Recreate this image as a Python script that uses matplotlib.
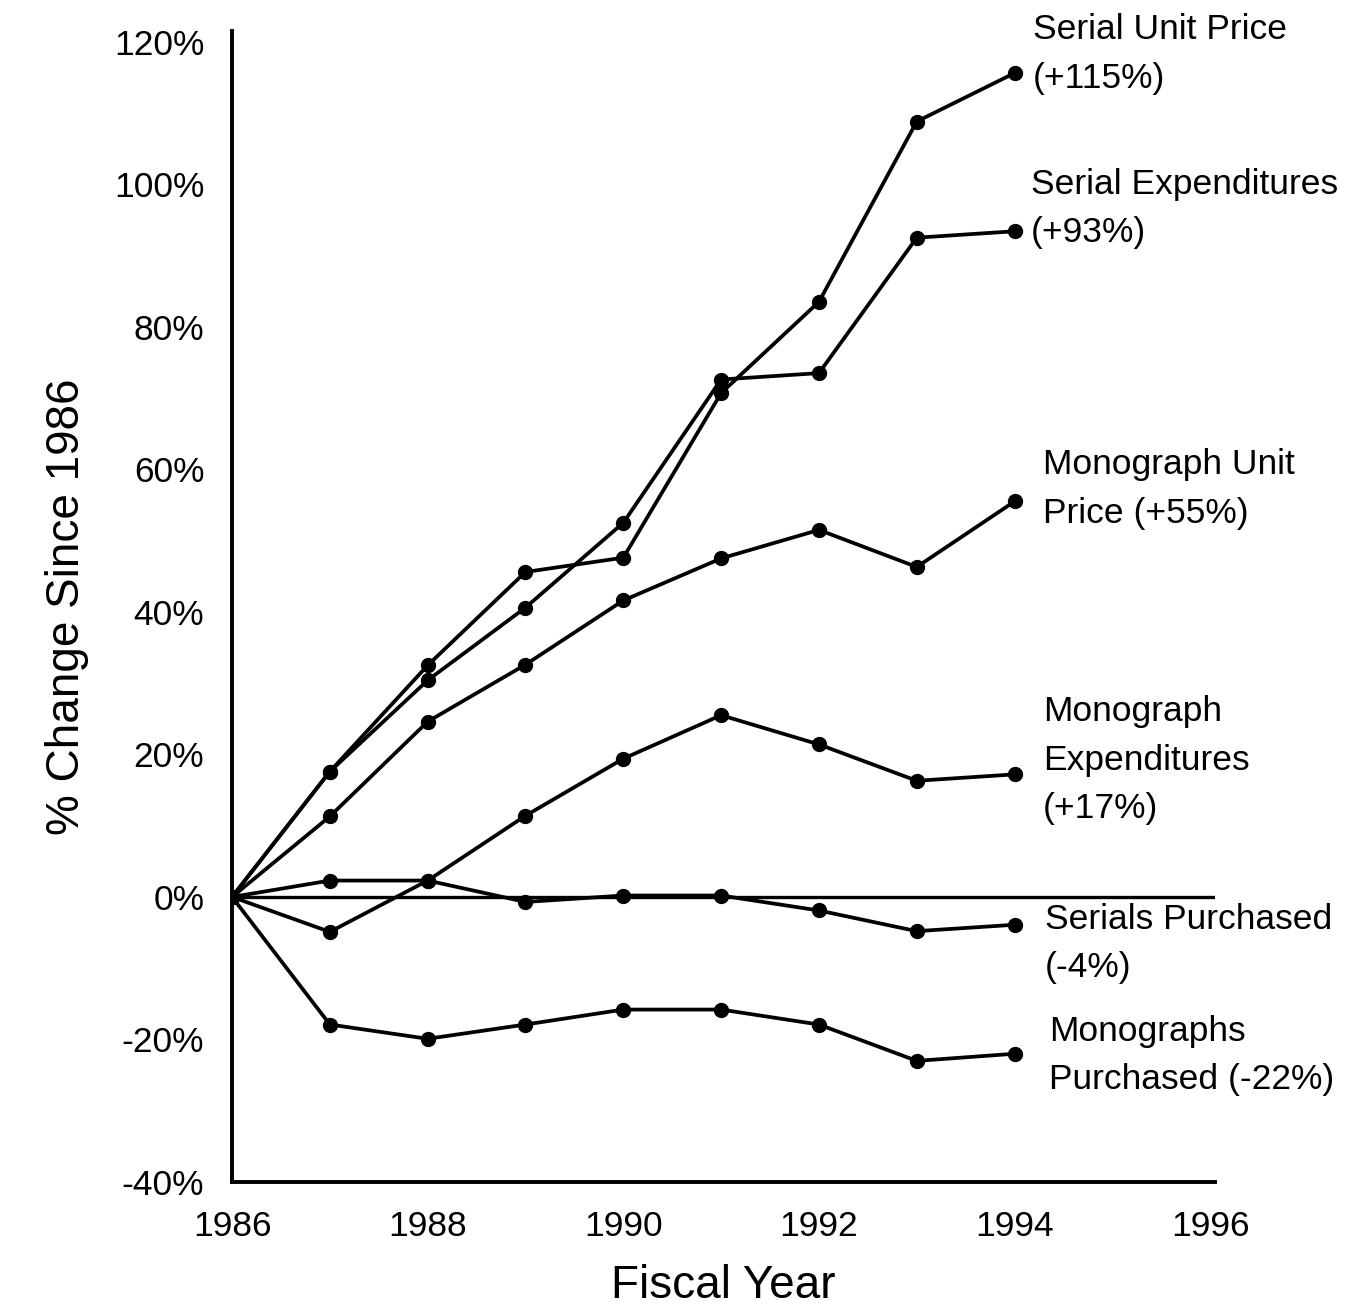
import matplotlib
matplotlib.use('Agg')
from matplotlib import pyplot as plt

plt.rcParams['font.family'] = ['Liberation Sans', 'DejaVu Sans']

# años fiscales y % de cambio desde 1986
years = [1986, 1987, 1988, 1989, 1990, 1991, 1992, 1993, 1994]

serialUnitPrice = [0, 17.6, 32.5, 45.6, 47.6, 70.7, 83.5, 108.8, 115.6]
serialExpenditures = [0, 17.6, 30.4, 40.6, 52.5, 72.6, 73.5, 92.5, 93.4]
monographUnitPrice = [0, 11.3, 24.6, 32.6, 41.6, 47.5, 51.5, 46.3, 55.5]
monographExpenditures = [0, -4.9, 2.3, 11.4, 19.4, 25.5, 21.4, 16.3, 17.2]
serialsPurchased = [0, 2.3, 2.3, -0.7, 0.2, 0.2, -1.9, -4.8, -3.9]
monographsPurchased = [0, -17.9, -19.9, -17.9, -15.8, -15.8, -17.9, -23.0, -22.0]

series = [serialUnitPrice, serialExpenditures, monographUnitPrice,
          monographExpenditures, serialsPurchased, monographsPurchased]

# etiquetas de la derecha: texto, x, y (borde superior)
etiquetas = ['Serial Unit Price\n(+115%)',
             'Serial Expenditures\n(+93%)',
             'Monograph Unit\nPrice (+55%)',
             'Monograph\nExpenditures\n(+17%)',
             'Serials Purchased\n(-4%)',
             'Monographs\nPurchased (-22%)']
etiquetaX = [1994.19, 1994.17, 1994.29, 1994.29, 1994.31, 1994.35]
etiquetaY = [124.0, 102.3, 63.0, 28.3, -0.8, -16.5]

xTicks = [1986, 1988, 1990, 1992, 1994, 1996]
yTicks = [-40, -20, 0, 20, 40, 60, 80, 100, 120]

fig = plt.figure(figsize=(13.61, 13.08), dpi=100)
ax = fig.add_axes([0.1705, 0.0963, 0.7223, 0.88])

ax.axhline(0, color='black', lw=2.4)
for valores in series:
    ax.plot(years, valores, color='black', lw=2.7, marker='o', markersize=10)

for texto, x, y in zip(etiquetas, etiquetaX, etiquetaY):
    ax.text(x, y, texto, fontsize=25.5, va='top', ha='left', linespacing=1.6,
            clip_on=False)

ax.set_xlim(1986, 1996.05)
ax.set_ylim(-40, 121.5)
ax.set_xticks(xTicks)
ax.set_yticks(yTicks)
ax.set_yticklabels([f'{v}%' for v in yTicks])
ax.tick_params(length=0, labelsize=25.5)
ax.tick_params(axis='y', pad=20)
ax.tick_params(axis='x', pad=20)
for lado in ['top', 'right']:
    ax.spines[lado].set_visible(False)
for lado in ['left', 'bottom']:
    ax.spines[lado].set_linewidth(2.8)

ax.set_xlabel('Fiscal Year', fontsize=33, labelpad=15)
ax.set_ylabel('% Change Since 1986', fontsize=33, labelpad=18)

fig.savefig('out.png', dpi=100)
